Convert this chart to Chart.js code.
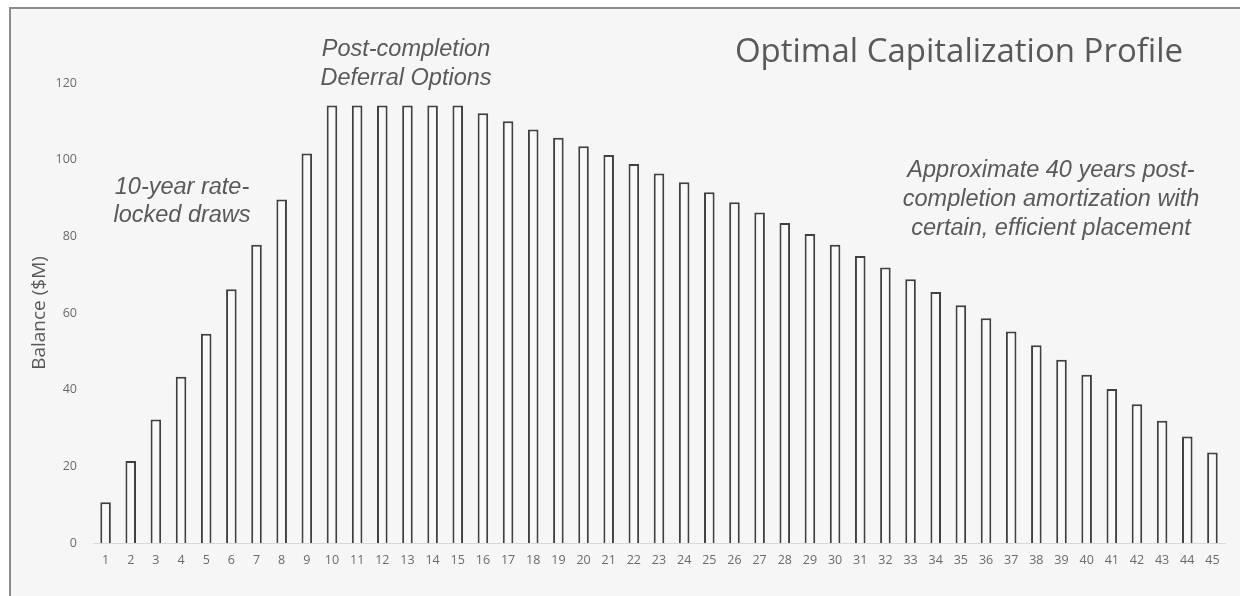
<!DOCTYPE html>
<html>
<head>
<meta charset="utf-8">
<script src="https://cdn.jsdelivr.net/npm/chart.js@4.4.1/dist/chart.umd.min.js"></script>
<style>
  html, body { margin: 0; padding: 0; background: #ffffff; }
  #wrap { position: relative; width: 1240px; height: 596px; }
</style>
</head>
<body>
<div id="wrap"><canvas id="chart" width="1240" height="596"></canvas></div>
<script>
// Years of the financing profile
const years = [
  '1','2','3','4','5','6','7','8','9','10',
  '11','12','13','14','15','16','17','18','19','20',
  '21','22','23','24','25','26','27','28','29','30',
  '31','32','33','34','35','36','37','38','39','40',
  '41','42','43','44','45'
];

// Outstanding balance at year end, $M
const balance = [
  10.6, 21.4, 32.2, 43.4, 54.6, 66.2, 77.8, 89.6, 101.6, 114.1,
  114.1, 114.1, 114.1, 114.1, 114.1, 112.1, 110.0, 107.9, 105.7, 103.5,
  101.2, 98.9, 96.4, 94.1, 91.5, 88.9, 86.2, 83.5, 80.6, 77.8,
  74.9, 71.9, 68.8, 65.5, 62.0, 58.6, 55.2, 51.6, 47.8, 43.9,
  40.2, 36.2, 31.9, 27.8, 23.6
];

// Value axis ticks
const yTicks = [0, 20, 40, 60, 80, 100, 120];

const chartTitle = 'Optimal Capitalization Profile';
const axisTitle = 'Balance ($M)';

// Callout notes: lines of text, centre x and first baseline
const notes = [
  { lines: ['Post-completion', 'Deferral Options'], x: 406, y: 56, step: 29 },
  { lines: ['10-year rate-', 'locked draws'], x: 182, y: 194, step: 28 },
  { lines: ['Approximate 40 years post-', 'completion amortization with', 'certain, efficient placement'], x: 1051, y: 177, step: 29 }
];

const frame = {
  id: 'frame',
  beforeDraw(chart) {
    const ctx = chart.ctx;
    ctx.save();
    ctx.fillStyle = '#ffffff';
    ctx.fillRect(0, 0, chart.width, chart.height);
    ctx.fillStyle = '#f6f6f6';
    ctx.fillRect(10, 9, chart.width - 10, chart.height - 9);
    ctx.strokeStyle = '#8c8c8c';
    ctx.lineWidth = 2;
    ctx.beginPath();
    ctx.moveTo(10, chart.height);
    ctx.lineTo(10, 8);
    ctx.lineTo(chart.width, 8);
    ctx.stroke();
    ctx.restore();
  },
  afterDraw(chart) {
    const ctx = chart.ctx;
    ctx.save();
    ctx.fillStyle = '#595959';
    ctx.textAlign = 'center';
    ctx.textBaseline = 'alphabetic';
    ctx.font = '33px "Open Sans"';
    ctx.fillText(chartTitle, 959, 62);
    ctx.font = 'italic 23.5px "Liberation Sans"';
    notes.forEach(n => {
      n.lines.forEach((t, i) => ctx.fillText(t, n.x, n.y + i * n.step));
    });
    ctx.restore();
  }
};

new Chart(document.getElementById('chart'), {
  type: 'bar',
  data: {
    labels: years,
    datasets: [{
      data: balance,
      backgroundColor: '#f9f9f9',
      borderColor: '#404040',
      borderWidth: 2,
      barPercentage: 0.42,
      categoryPercentage: 1.0
    }]
  },
  options: {
    responsive: false,
    animation: false,
    layout: { padding: { top: 83, right: 15, bottom: 0, left: 0 } },
    plugins: {
      legend: { display: false },
      tooltip: { enabled: false },
      title: { display: false }
    },
    scales: {
      x: {
        grid: { display: false, drawTicks: false },
        border: { display: true, color: '#d9d9d9', width: 1 },
        ticks: {
          color: '#6a6a6a',
          font: { family: '"Open Sans"', size: 12.5 },
          padding: 10,
          maxRotation: 0,
          autoSkip: false
        },
        afterFit(scale) { scale.height = 53; }
      },
      y: {
        min: 0,
        max: 120,
        afterBuildTicks(scale) { scale.ticks = yTicks.map(v => ({ value: v })); },
        grid: { display: false, drawTicks: false },
        border: { display: false },
        ticks: {
          color: '#6a6a6a',
          font: { family: '"Open Sans"', size: 12.5 },
          padding: 16
        },
        title: {
          display: true,
          text: axisTitle,
          color: '#595959',
          font: { family: '"Open Sans"', size: 19 },
          padding: { top: 28, bottom: 0 }
        },
        afterFit(scale) { scale.width = 93; }
      }
    }
  },
  plugins: [frame]
});
</script>
</body>
</html>
